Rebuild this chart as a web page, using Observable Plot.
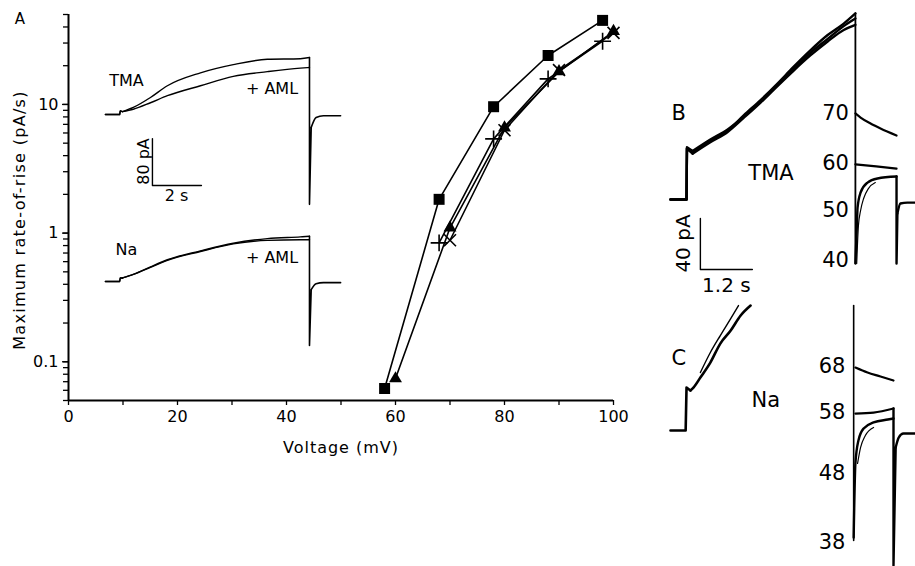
<!DOCTYPE html>
<html>
<head>
<meta charset="utf-8">
<script src="https://cdn.jsdelivr.net/npm/d3@7"></script>
<script src="https://cdn.jsdelivr.net/npm/@observablehq/plot@0.6"></script>
<style>
  html, body { margin: 0; padding: 0; background: #fff; }
  #fig { position: relative; width: 915px; height: 566px; overflow: hidden; background: #fff; font-family: "DejaVu Sans", sans-serif; color: #000; }
  .lbl { position: absolute; transform: translate(-50%, -50%); white-space: nowrap; line-height: 1; }
  #fig svg [aria-label="x-axis label"] text { letter-spacing: 1px; }
</style>
</head>
<body>
<div id="fig"></div>
<script>
// ---------- Panel A: max rate-of-rise vs voltage ----------
const voltSquare = [58, 68, 78, 88, 98];
const rateSquare = [0.062, 1.83, 9.6, 24, 45];
const voltTriangle = [60, 70, 80, 90, 100];
const rateTriangle = [0.074, 1.1, 6.6, 18, 37];
const voltPlus = [68, 78, 88, 98];
const ratePlus = [0.84, 5.4, 15.8, 31];
const voltTimes = [70, 80, 90, 100];
const rateTimes = [0.88, 6.3, 18.5, 36];
const xMajorTicks = [0, 20, 40, 60, 80, 100];
const xMinorTicks = [10, 30, 50, 70, 90];
const yMajorTicks = [0.1, 1, 10];

// ---------- Panel A insets (time s, current pA) ----------
const insetTime = [0, 0.58, 0.61, 0.7, 1.14, 1.84, 2.53, 3.88, 5.22, 6.61, 7.96, 8.33];
const tmaControl = [0, 0, 6, 5, 12, 29, 49, 71, 85, 94, 95, 97];
const tmaAML = [0, 0, 6, 5, 9, 20, 32, 49, 65, 73, 79, 80];
const naControl = [0, 0, 6, 6, 12, 25, 37, 52, 65, 73, 76, 77];
const naAML = [0, 0, 6, 6, 12, 24, 36, 51, 64, 70, 71, 71];
const offTime = [8.33, 8.33, 8.4, 8.6, 8.9, 9.6];
const tmaOff = [97, -153, -22, -5, -2, -2];
const naOff = [77, -109, -14, -4, -2, -2];
const scaleA = {t: 1.92, i: -121, dt: 2, di: 80};

// ---------- Panel B (TMA) ----------
const bTime = [0, 0.37, 0.38, 0.51, 0.92, 1.32, 1.69, 2.08, 2.47, 2.84, 3.23, 3.63, 4.0, 4.27];
const bTrace1 = [0, 0, 40, 37, 46, 54, 66, 78, 91, 104, 117, 129, 138, 146];
const bTrace2 = [0, 0, 40, 36, 45, 53, 64, 76, 89, 101, 113, 124, 133, 137];
const bTrace3 = [0, 0, 41, 38, 47, 55, 65, 77, 90, 102, 115, 126, 136, 142];
const bDropTime = [4.27, 4.27];
const bDrop = [146, -50];
const bTail70Time = [4.27, 4.39, 4.62, 4.85, 5.22];
const bTail70 = [67.5, 64.3, 59.6, 55.7, 50.2];
const bTail60Time = [4.27, 4.75, 5.22];
const bTail60 = [27.5, 26, 24.3];
const bTail50Time = [4.27, 4.30, 4.32, 4.39, 4.55, 4.78, 5.22];
const bTail50 = [-50.2, -24.3, -6.3, 5.5, 13.3, 16.5, 18];
const bTail50bTime = [4.30, 4.34, 4.39, 4.46, 4.57, 4.73];
const bTail50b = [-50.2, -20.4, -8.6, 0.8, 8.6, 13.3];
const bOffTime = [5.22, 5.22, 5.24, 5.31, 5.47, 5.66];
const bOff = [18, -50.2, -11, -3.1, -2.4, -2.4];
const bLabels = ["70", "60", "50", "40"];
const bLabelLevels = [67.5, 28.2, -8.6, -47.8];
const scaleB = {t: 0.69, i: -54.9, dt: 1.2, di: 40};

// ---------- Panel C (Na) ----------
const cTime1 = [0, 0.35, 0.37, 0.46, 0.53, 0.69, 0.92, 1.15, 1.39, 1.62, 1.85];
const cTrace1 = [0, 0, 33.7, 31.4, 33.7, 41.6, 53.3, 68.2, 78.4, 90.2, 98];
const cTime2 = [0.69, 0.92, 1.15, 1.39, 1.57];
const cTrace2 = [45.5, 61.2, 74.5, 87.8, 98];
const cStepTime = [4.23, 4.23];
const cStep = [98, -86.3];
const cTail68Time = [4.27, 4.55, 4.85, 5.15];
const cTail68 = [49.4, 45.5, 42.4, 39.2];
const cTail58Time = [4.27, 4.69, 5.15];
const cTail58 = [13.3, 14.1, 17.3];
const cOffTime = [5.15, 5.15, 5.2, 5.27, 5.38, 5.66];
const cOff = [17.3, -105.9, -13.3, -5.5, -2.4, -2.4];
const cTail48Time = [4.23, 4.27, 4.34, 4.46, 4.69, 5.02, 5.15];
const cTail48 = [-83.9, -25.9, -7.8, 1.6, 6.3, 8.6, 9.4];
const cTail48bTime = [4.32, 4.39, 4.50, 4.69];
const cTail48b = [-25.9, -13.3, -3.9, 2.4];
const cLabels = ["68", "58", "48", "38"];
const cLabelLevels = [50.2, 14.1, -33.7, -87.8];

// ---------- helpers ----------
const fig = document.getElementById("fig");
const FONT = "DejaVu Sans";
const pts = (xs, ys, extra = {}) => xs.map((x, i) => ({x, y: ys[i], ...extra}));

function place(svg, left, top) {
  svg.style.position = "absolute";
  svg.style.left = left + "px";
  svg.style.top = top + "px";
  fig.appendChild(svg);
}
function label(text, x, y, size, extra = "") {
  const d = document.createElement("div");
  d.className = "lbl";
  d.textContent = text;
  d.style.cssText += `left:${x}px;top:${y}px;font-size:${size}px;${extra}`;
  fig.appendChild(d);
}
// a trace: linear part up to index k, then a smooth curve
function trace(xs, ys, k, sw) {
  const all = pts(xs, ys);
  return [
    Plot.line(all.slice(0, k + 1), {x: "x", y: "y", stroke: "#000", strokeWidth: sw}),
    Plot.line(all.slice(k), {x: "x", y: "y", stroke: "#000", strokeWidth: sw, curve: "monotone-x"})
  ];
}
const lin = (xs, ys, sw) => Plot.line(pts(xs, ys), {x: "x", y: "y", stroke: "#000", strokeWidth: sw});
const smooth = (xs, ys, sw) => Plot.line(pts(xs, ys), {x: "x", y: "y", stroke: "#000", strokeWidth: sw, curve: "monotone-x"});

// ---------- main plot ----------
const series = [
  ...pts(voltSquare, rateSquare, {s: "square"}),
  ...pts(voltTriangle, rateTriangle, {s: "triangle"}),
  ...pts(voltPlus, ratePlus, {s: "plus"}),
  ...pts(voltTimes, rateTimes, {s: "times"})
];
const yAllTicks = d3.scaleLog().domain([0.05, 50]).ticks();

const main = Plot.plot({
  width: 640, height: 460,
  marginLeft: 68, marginRight: 27, marginTop: 14, marginBottom: 60,
  style: {fontFamily: FONT, fontSize: "16px", background: "none", color: "#000"},
  x: {domain: [0, 100]},
  y: {type: "log", domain: [0.05, 50]},
  marks: [
    Plot.axisX({ticks: xMinorTicks, tickSize: 5, strokeWidth: 1.3, tickFormat: () => "", label: null}),
    Plot.axisX({ticks: xMajorTicks, tickSize: 5, strokeWidth: 1.3, tickPadding: 5, tickFormat: d => String(d),
      label: "Voltage (mV)", labelAnchor: "center", labelOffset: 52, labelArrow: "none"}),
    Plot.axisY({ticks: yAllTicks, tickSize: 5, strokeWidth: 1.3, tickFormat: () => "", label: null}),
    Plot.axisY({ticks: yMajorTicks, tickSize: 6, strokeWidth: 1.3, tickPadding: 4, tickFormat: d => String(d), label: null}),
    Plot.ruleX([0], {strokeWidth: 2}),
    Plot.ruleY([0.05], {strokeWidth: 2}),
    Plot.line(series, {x: "x", y: "y", z: "s", stroke: "#000", strokeWidth: 1.6}),
    Plot.dot(series.filter(d => d.s === "square"), {x: "x", y: "y", symbol: "square", r: 6.2, fill: "#000"}),
    Plot.dot(series.filter(d => d.s === "triangle"), {x: "x", y: "y", symbol: "triangle", r: 4.8, fill: "#000"}),
    Plot.dot(series.filter(d => d.s === "plus"), {x: "x", y: "y", symbol: "plus", r: 5.5, stroke: "#000", strokeWidth: 1.6}),
    Plot.dot(series.filter(d => d.s === "times"), {x: "x", y: "y", symbol: "times", r: 5.5, stroke: "#000", strokeWidth: 1.6})
  ]
});
place(main, 0, 0);
label("Maximum rate-of-rise (pA/s)", 20, 220, 16, "transform: translate(-50%,-50%) rotate(-90deg); letter-spacing: 1.3px;");

// ---------- A insets ----------
const overlayStyle = {fontFamily: FONT, background: "none", overflow: "visible", color: "#000"};
function insetTrace(ctl, aml, off) {
  return [
    ...trace(insetTime, ctl, 3, 1.4),
    ...trace(insetTime, aml, 3, 1.4),
    ...trace(offTime, off, 2, 1.6)
  ];
}
const tmaInset = Plot.plot({
  width: 245, height: 165, margin: 0,
  style: overlayStyle,
  x: {domain: [-0.2, 9.8], axis: null},
  y: {domain: [-172, 109], axis: null},
  marks: [
    ...insetTrace(tmaControl, tmaAML, tmaOff),
    Plot.line([{x: scaleA.t + scaleA.dt, y: scaleA.i}, {x: scaleA.t, y: scaleA.i}, {x: scaleA.t, y: scaleA.i + scaleA.di}],
      {x: "x", y: "y", stroke: "#000", strokeWidth: 1.4}),
    Plot.text([{x: 1.55, y: -80, s: "80 pA"}], {x: "x", y: "y", text: "s", rotate: -90, fontSize: 16}),
    Plot.text([{x: 2.9, y: -139, s: "2 s"}], {x: "x", y: "y", text: "s", fontSize: 16}),
    Plot.text([{x: 0.86, y: 58, s: "TMA"}], {x: "x", y: "y", text: "s", fontSize: 16}),
    Plot.text([{x: 6.8, y: 44, s: "+ AML"}], {x: "x", y: "y", text: "s", fontSize: 16})
  ]
});
place(tmaInset, 100, 50);

const naInset = Plot.plot({
  width: 245, height: 140, margin: 0,
  style: overlayStyle,
  x: {domain: [-0.2, 9.8], axis: null},
  y: {domain: [-134.5, 103.8], axis: null},
  marks: [
    ...insetTrace(naControl, naAML, naOff),
    Plot.text([{x: 0.86, y: 53, s: "Na"}], {x: "x", y: "y", text: "s", fontSize: 16}),
    Plot.text([{x: 6.8, y: 41, s: "+ AML"}], {x: "x", y: "y", text: "s", fontSize: 16})
  ]
});
place(naInset, 100, 220);

// ---------- Panel B ----------
const bPlot = Plot.plot({
  width: 255, height: 300, margin: 0,
  style: overlayStyle,
  x: {domain: [-0.231, 5.658], axis: null},
  y: {domain: [-79.2, 156.1], axis: null},
  marks: [
    ...trace(bTime, bTrace2, 3, 2.4),
    ...trace(bTime, bTrace3, 3, 2.4),
    ...trace(bTime, bTrace1, 3, 2.4),
    lin(bDropTime, bDrop, 1.8),
    smooth(bTail70Time, bTail70, 2.2),
    smooth(bTail60Time, bTail60, 2.2),
    smooth(bTail50Time, bTail50, 2.4),
    smooth(bTail50bTime, bTail50b, 1.2),
    ...trace(bOffTime, bOff, 2, 2.4),
    Plot.text(bLabels.map((s, i) => ({s, y: bLabelLevels[i]})), {x: () => 4.12, y: "y", text: "s", textAnchor: "end", fontSize: 21}),
    Plot.line([{x: scaleB.t, y: scaleB.i + scaleB.di}, {x: scaleB.t, y: scaleB.i}, {x: scaleB.t + scaleB.dt, y: scaleB.i}],
      {x: "x", y: "y", stroke: "#000", strokeWidth: 1.4}),
    Plot.text([{x: 0.30, y: -34.5, s: "40 pA"}], {x: "x", y: "y", text: "s", rotate: -90, fontSize: 20}),
    Plot.text([{x: 1.29, y: -67.5, s: "1.2 s"}], {x: "x", y: "y", text: "s", fontSize: 20}),
    Plot.text([{x: 2.32, y: 20.4, s: "TMA"}], {x: "x", y: "y", text: "s", fontSize: 21}),
    Plot.text([{x: 0.19, y: 68, s: "B"}], {x: "x", y: "y", text: "s", fontSize: 21})
  ]
});
place(bPlot, 660, 0);

// ---------- Panel C ----------
const cPlot = Plot.plot({
  width: 255, height: 266, margin: 0,
  style: overlayStyle,
  x: {domain: [-0.231, 5.658], axis: null},
  y: {domain: [-106.7, 102], axis: null},
  marks: [
    ...trace(cTime1, cTrace1, 3, 2.6),
    smooth(cTime2, cTrace2, 1.4),
    lin(cStepTime, cStep, 1.6),
    smooth(cTail68Time, cTail68, 2.2),
    smooth(cTail58Time, cTail58, 2.2),
    ...trace(cOffTime, cOff, 2, 2.4),
    smooth(cTail48Time, cTail48, 2.4),
    smooth(cTail48bTime, cTail48b, 1.2),
    Plot.text(cLabels.map((s, i) => ({s, y: cLabelLevels[i]})), {x: () => 4.04, y: "y", text: "s", textAnchor: "end", fontSize: 21}),
    Plot.text([{x: 2.2, y: 23.5, s: "Na"}], {x: "x", y: "y", text: "s", fontSize: 21}),
    Plot.text([{x: 0.19, y: 57, s: "C"}], {x: "x", y: "y", text: "s", fontSize: 21})
  ]
});
place(cPlot, 660, 300);

// panel letter A
label("A", 20, 19, 15);
</script>
</body>
</html>
